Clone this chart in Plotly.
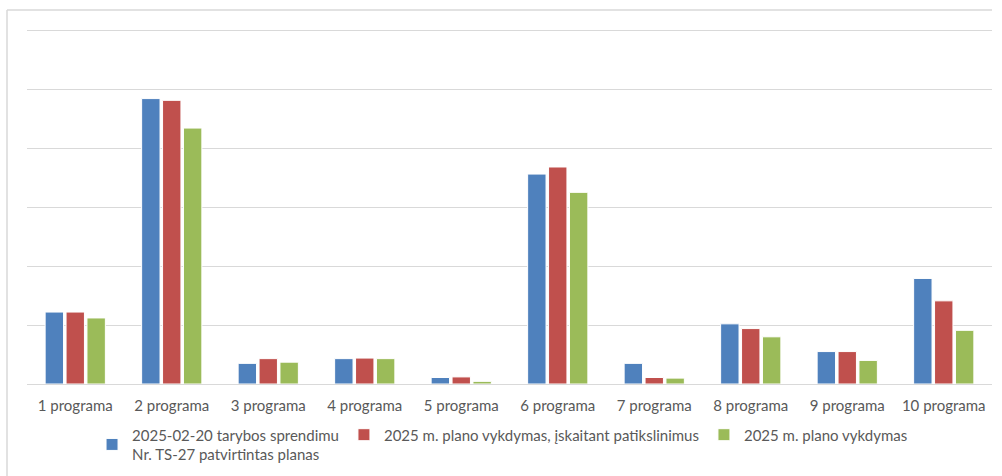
import plotly.graph_objects as go

categories = ["1 programa", "2 programa", "3 programa", "4 programa", "5 programa",
              "6 programa", "7 programa", "8 programa", "9 programa", "10 programa"]
series_names = [
    "2025-02-20 tarybos sprendimu<br>Nr. TS-27 patvirtintas planas",
    "2025 m. plano vykdymas, įskaitant patikslinimus",
    "2025 m. plano vykdymas",
]
plan_values = [1.22, 4.84, 0.35, 0.43, 0.11, 3.56, 0.35, 1.02, 0.55, 1.79]
adjusted_values = [1.22, 4.81, 0.43, 0.44, 0.12, 3.68, 0.11, 0.94, 0.55, 1.41]
executed_values = [1.12, 4.34, 0.37, 0.43, 0.045, 3.25, 0.10, 0.80, 0.40, 0.91]
colors = ["#4F81BD", "#C0504D", "#9BBB59"]

FONT = "Lato"
ML, MR, MT, MB = 27, 10, 29, 92
PLOT_W = 1002 - ML - MR
PLOT_H = 476 - MT - MB
fig = go.Figure()
for name, vals, col in zip(series_names, [plan_values, adjusted_values, executed_values], colors):
    fig.add_trace(go.Bar(
        x=categories, y=vals, name=name,
        marker=dict(color=col, line=dict(color="white", width=1)),
    ))

frame_x0 = -20 / PLOT_W
frame_y1 = 1 + 19 / PLOT_H
frame_style = dict(color="#d9d9d9", width=1.5)
fig.update_layout(
    width=1002, height=476,
    margin=dict(l=ML, r=MR, t=MT, b=MB, autoexpand=False),
    paper_bgcolor="white", plot_bgcolor="white",
    barmode="group", bargap=0.35, bargroupgap=0.12,
    font=dict(family=FONT, size=15, color="#595959"),
    showlegend=True,
    legend=dict(orientation="h", x=0.0674, xanchor="left", y=-0.097, yanchor="top",
                font=dict(family=FONT, size=15, color="#595959"),
                itemwidth=30, tracegroupgap=0, traceorder="normal",
                maxheight=150),
    shapes=[
        dict(type="line", xref="paper", yref="paper", x0=frame_x0, x1=1.0,
             y0=frame_y1, y1=frame_y1, line=frame_style, layer="below"),
        dict(type="line", xref="paper", yref="paper", x0=frame_x0, x1=frame_x0,
             y0=-0.4, y1=frame_y1, line=frame_style, layer="below"),
    ],
)
fig.update_xaxes(showline=True, linecolor="#d9d9d9", linewidth=1, ticks="",
                 ticklabelstandoff=8,
                 tickfont=dict(family=FONT, size=15, color="#595959"), showgrid=False)
fig.update_yaxes(range=[0, 6.02], dtick=1, showgrid=True, gridcolor="#d9d9d9", gridwidth=1,
                 showticklabels=False, zeroline=False, showline=False)

fig.write_html("out.html", config={"displayModeBar": False},
               post_script="document.body.style.margin='0';")
